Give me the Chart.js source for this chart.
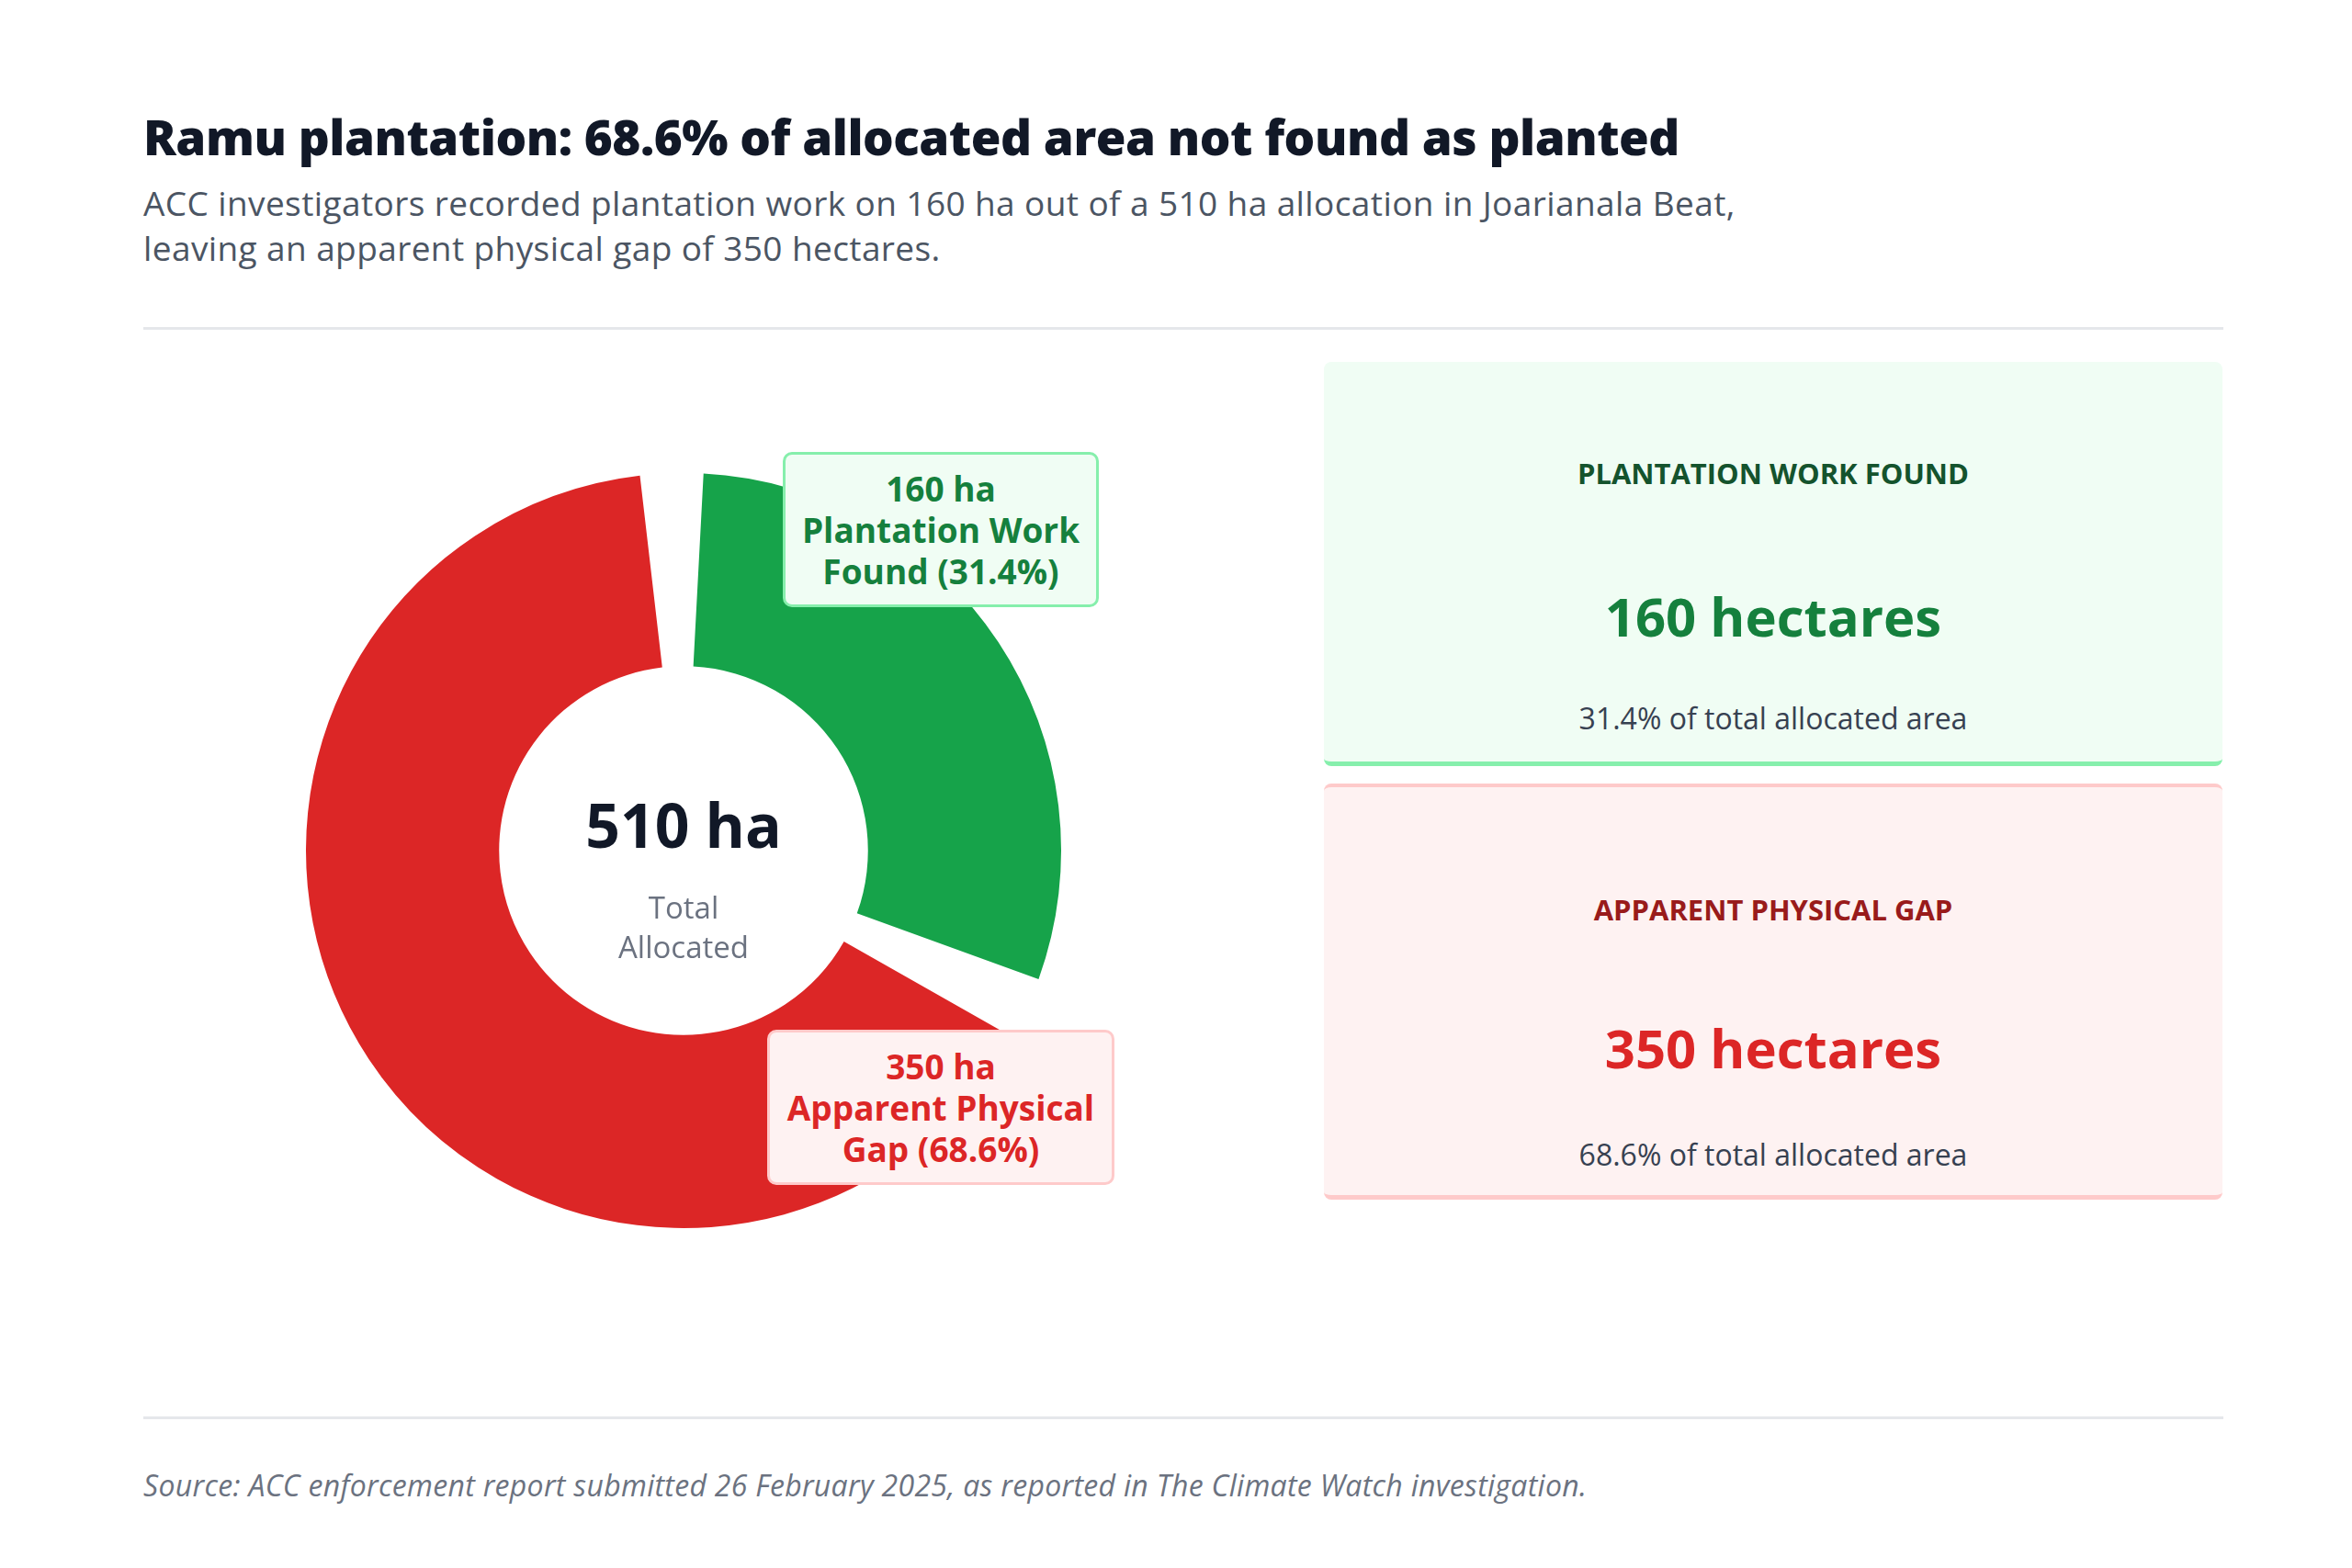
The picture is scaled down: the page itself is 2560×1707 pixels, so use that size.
<!DOCTYPE html>
<html><head><meta charset="utf-8">
<script src="https://cdn.jsdelivr.net/npm/chart.js@4"></script>
<style>
html,body{margin:0;padding:0;background:#fff;}
body{width:2560px;height:1707px;position:relative;font-family:"Open Sans",sans-serif;overflow:hidden;}
.abs{position:absolute;}
h1{position:absolute;left:156px;top:112px;margin:0;font-size:53px;font-weight:800;color:#111827;letter-spacing:-0.5px;}
.sub{left:156px;top:196px;font-size:37px;line-height:49px;color:#4b5563;letter-spacing:0.4px;}
.hr{height:3px;background:#e5e7eb;left:156px;width:2264px;}
.lbl{text-align:center;font-weight:700;font-size:37px;line-height:45px;border-radius:10px;box-sizing:border-box;display:flex;align-items:center;justify-content:center;}
.card{left:1441px;width:978px;border-radius:8px;text-align:center;box-sizing:border-box;}
.card .t{position:absolute;left:0;right:0;font-weight:700;font-size:31px;}
.card .v{position:absolute;left:0;right:0;font-weight:700;font-size:58px;}
.card .p{position:absolute;left:0;right:0;font-size:32px;color:#374151;}
</style></head><body>
<h1>Ramu plantation: 68.6% of allocated area not found as planted</h1>
<div class="abs sub">ACC investigators recorded plantation work on 160 ha out of a 510 ha allocation in Joarianala Beat,<br>leaving an apparent physical gap of 350 hectares.</div>
<div class="abs hr" style="top:356px"></div>

<div class="abs" style="left:294px;top:476px;width:900px;height:900px"><canvas id="c"></canvas></div>

<div class="abs" style="left:594px;top:852px;width:300px;text-align:center;font-size:66px;font-weight:700;color:#111827">510 ha</div>
<div class="abs" style="left:594px;top:966px;width:300px;text-align:center;font-size:33px;line-height:43px;color:#6b7280">Total<br>Allocated</div>

<div class="abs lbl" style="left:852px;top:492px;width:344px;height:169px;background:#f0fdf4;border:3px solid #86efac;color:#15803d">160 ha<br>Plantation Work<br>Found (31.4%)</div>
<div class="abs lbl" style="left:835px;top:1121px;width:378px;height:169px;background:#fef2f2;border:3px solid #fecaca;color:#dc2626">350 ha<br>Apparent Physical<br>Gap (68.6%)</div>

<div class="abs card" style="top:394px;height:440px;background:#f0fdf4;border-bottom:5px solid #86efac">
 <div class="t" style="top:100px;color:#14532d">PLANTATION WORK FOUND</div>
 <div class="v" style="top:237px;color:#15803d">160 hectares</div>
 <div class="p" style="top:366px">31.4% of total allocated area</div>
</div>
<div class="abs card" style="top:853px;height:453px;background:#fef2f2;border-top:4px solid #fecaca;border-bottom:5px solid #fecaca">
 <div class="t" style="top:112px;color:#991b1b">APPARENT PHYSICAL GAP</div>
 <div class="v" style="top:244px;color:#dc2626">350 hectares</div>
 <div class="p" style="top:378px">68.6% of total allocated area</div>
</div>

<div class="abs hr" style="top:1542px"></div>
<div class="abs" style="left:156px;top:1595px;font-size:32px;font-style:italic;color:#6b7280;letter-spacing:0.3px">Source: ACC enforcement report submitted 26 February 2025, as reported in The Climate Watch investigation.</div>

<script>
const categories = ["Plantation Work Found", "Apparent Physical Gap"];
const hectares = [160, 350];
const colors = ["#16a34a", "#dc2626"];
new Chart(document.getElementById('c'), {
  type: 'doughnut',
  data: { labels: categories, datasets: [{ data: hectares, backgroundColor: colors, borderWidth: 0, spacing: 32 }] },
  options: {
    responsive: true, maintainAspectRatio: false, animation: false,
    radius: 395, cutout: 203,
    layout: { padding: 0 },
    plugins: { legend: { display: false }, tooltip: { enabled: false } }
  }
});
</script>
</body></html>
